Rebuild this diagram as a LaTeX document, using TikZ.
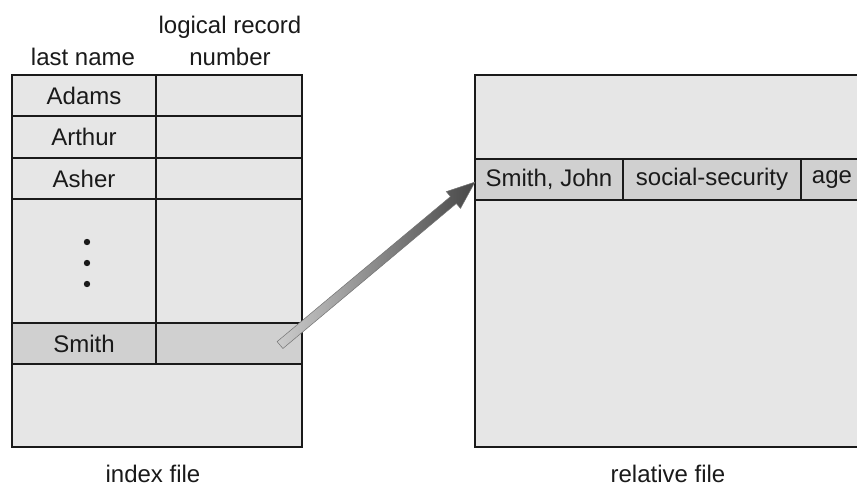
\documentclass[tikz,border=0pt]{standalone}
\usepackage{fontspec}
\setmainfont{Liberation Sans}
\definecolor{cellfill}{HTML}{E6E6E6}
\definecolor{rowfill}{HTML}{D0D0D0}
\definecolor{edge}{HTML}{1A1A1A}
\begin{document}
\begin{tikzpicture}[x=1pt,y=-1pt,
  cell/.style={draw=edge, line width=1.8pt, fill=cellfill, inner sep=0pt, outer sep=0pt,
    font=\fontsize{24}{28}\selectfont, text=edge},
  hilite/.style={cell, fill=rowfill},
  lbl/.style={inner sep=0pt, font=\fontsize{24}{28}\selectfont, text=edge}]
\useasboundingbox (0,0) rectangle (857,486);
\fill[white] (0,0) rectangle (857,486);
% index file
\node[cell, minimum width=144pt, minimum height=41pt] (adams) at (84,95.5) {Adams};
\node[cell, minimum width=146pt, minimum height=41pt] (adamsN) at (229,95.5) {};
\node[cell, minimum width=144pt, minimum height=42pt] (arthur) at (84,137) {Arthur};
\node[cell, minimum width=146pt, minimum height=42pt] (arthurN) at (229,137) {};
\node[cell, minimum width=144pt, minimum height=41pt] (asher) at (84,178.5) {Asher};
\node[cell, minimum width=146pt, minimum height=41pt] (asherN) at (229,178.5) {};
\node[cell, minimum width=144pt, minimum height=124pt] (gap) at (84,261) {};
\node[cell, minimum width=146pt, minimum height=124pt] (gapN) at (229,261) {};
\node[hilite, minimum width=144pt, minimum height=41pt] (smith) at (84,343.5) {Smith};
\node[hilite, minimum width=146pt, minimum height=41pt] (smithN) at (229,343.5) {};
\node[cell, minimum width=290pt, minimum height=83pt] (rest) at (157,405.5) {};
\foreach \yy/\nm in {242/d1,263/d2,284/d3}
  \fill[edge] (87,\yy) circle (3.2pt) coordinate (\nm);
\node[lbl] (hname) at (83,57) {last name};
\node[lbl] (hlog) at (230,27) {logical record};
\node[lbl] (hnum) at (230,57) {number};
\node[lbl] (index) at (153,474) {index file};
% relative file
\node[cell, minimum width=420pt, minimum height=372pt] (rel) at (685,261) {};
\node[hilite, minimum width=148pt, minimum height=41pt] (john) at (549,179.5) {Smith, John};
\node[hilite, minimum width=178pt, minimum height=41pt] (ssn) at (712,179.5) {social-security};
\node[hilite, minimum width=94pt, minimum height=41pt] (age) at (848,179.5) {};
\node[lbl] (agetxt) at (832,179.5) {age};
\node[lbl] (relname) at (668,474) {relative file};
% arrow
\coordinate (tail) at (280,345);
\coordinate (tip) at (474.9,182.1);
\shade[left color=gray!40, right color=black!72, draw=black!55, line width=0.5pt]
  (282.9,348.5) -- (456.3,203.5) -- (460.5,208.4) -- (tip) -- (446.3,191.6)
  -- (450.5,196.6) -- (277.1,341.6) -- cycle;
\end{tikzpicture}
\end{document}
